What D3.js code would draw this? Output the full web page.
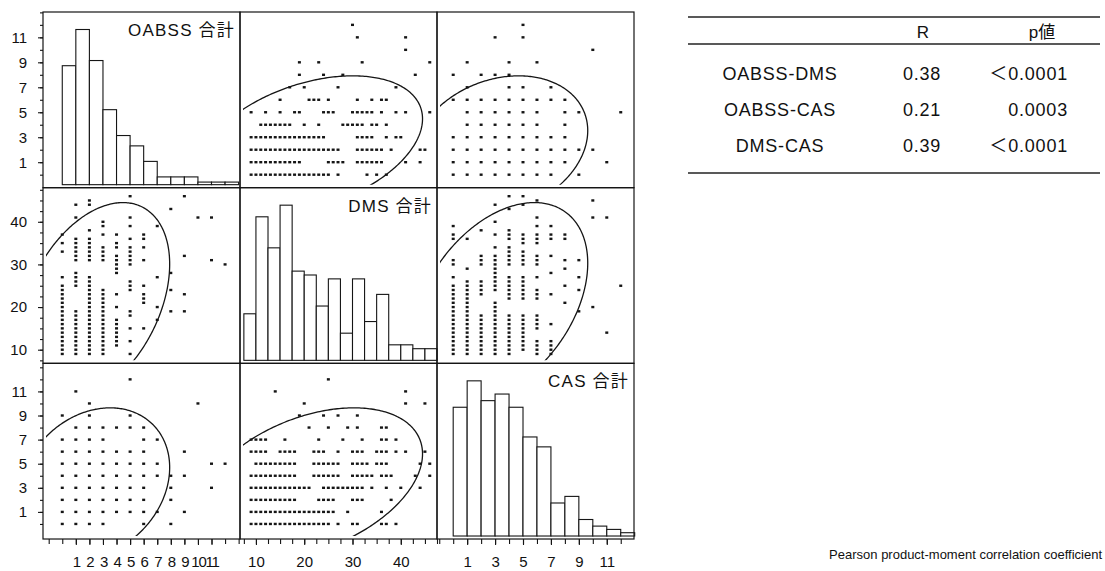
<!DOCTYPE html>
<html>
<head>
<meta charset="utf-8">
<script src="https://cdn.jsdelivr.net/npm/d3@7/dist/d3.min.js"></script>
<style>
  body { margin: 0; background: #fff; }
  svg text { font-family: "Liberation Sans", Arial, "Noto Sans CJK JP", sans-serif; fill: #111; }
</style>
</head>
<body>
<script>
// matrix order
var vars = ["OABSS", "DMS", "CAS"];
var diagLabels = ["OABSS 合計", "DMS 合計", "CAS 合計"];

// histograms (bin edges + counts)
var oabssEdges = [0, 1, 2, 3, 4, 5, 6, 7, 8, 9, 10, 11, 12, 13];
var oabssCounts = [46, 60, 48, 29, 19, 15, 9, 3, 3, 3, 1, 1, 1];
var dmsEdges = [7.5, 10, 12.5, 15, 17.5, 20, 22.5, 25, 27.5, 30, 32.5, 35, 37.5, 40, 42.5, 45, 47.5];
var dmsCounts = [12, 37, 29, 40, 23, 22, 14, 21, 7, 21, 10, 17, 4, 4, 3, 3];
var casEdges = [0, 1, 2, 3, 4, 5, 6, 7, 8, 9, 10, 11, 12, 13];
var casCounts = [39, 47, 41, 43, 39, 30, 27, 10, 12, 5, 3, 2, 1];

// mean / sd for the 95% density ellipses
var means = [2.36, 21.2, 3.37];
var sds = [2.27, 9.52, 2.56];

// correlation table
var pairNames = ["OABSS-DMS", "OABSS-CAS", "DMS-CAS"];
var rValues = [0.38, 0.21, 0.39];
var pValues = ["＜0.0001", "0.0003", "＜0.0001"];

// scatter points, grouped: [first var value, [second var values]]
var oabssDms = [
  [0, [37, 35, 33, 27, 25, 24, 23, 22, 21, 20, 19, 18, 17, 16, 15, 14, 13, 12, 11, 10, 9]],
  [1, [44, 41, 36, 35, 34, 33, 32, 31, 28, 27, 26, 25, 19, 18, 17, 16, 15, 14, 13, 12, 11, 10, 9]],
  [2, [45, 44, 38, 36, 35, 34, 33, 32, 31, 27, 26, 25, 24, 23, 22, 21, 20, 19, 18, 17, 16, 15, 14, 13, 12, 11, 10, 9]],
  [3, [40, 39, 37, 34, 33, 32, 31, 24, 23, 22, 21, 20, 19, 18, 17, 16, 15, 14, 13, 12, 11, 10, 9]],
  [4, [37, 35, 34, 32, 31, 30, 29, 28, 23, 20, 17, 16, 15, 14, 13, 12, 11]],
  [5, [46, 41, 39, 36, 34, 33, 32, 31, 30, 26, 25, 24, 19, 18, 15, 12, 9]],
  [6, [37, 36, 34, 31, 25, 23, 22, 21, 15]],
  [7, [39, 27, 20, 17]],
  [8, [43, 28, 24, 19]],
  [9, [46, 32, 23, 19]],
  [10, [41]],
  [11, [41, 31]],
  [12, [30]]
];
var oabssCas = [
  [0, [0, 1, 2, 3, 4, 5, 6, 7, 9]],
  [1, [0, 1, 2, 3, 4, 5, 6, 7, 8, 11]],
  [2, [0, 1, 2, 3, 4, 5, 6, 7, 8, 9, 10]],
  [3, [0, 1, 2, 3, 4, 5, 6, 7, 8]],
  [4, [1, 2, 3, 4, 5, 6, 8]],
  [5, [1, 2, 3, 4, 5, 6, 8, 9, 12]],
  [6, [0, 1, 2, 3, 4, 5, 6, 7, 8]],
  [7, [1, 4, 5, 7]],
  [8, [0, 2, 3, 4]],
  [9, [1, 4, 6]],
  [10, [10]],
  [11, [3, 5]],
  [12, [5]]
];
var casDms = [
  [0, [39, 37, 36, 31, 30, 27, 25, 24, 23, 22, 21, 20, 19, 18, 17, 16, 15, 14, 13, 12, 11, 10, 9]],
  [1, [36, 29, 26, 25, 24, 23, 22, 21, 20, 19, 18, 17, 16, 15, 14, 13, 12, 11, 10, 9]],
  [2, [38, 32, 31, 30, 26, 25, 24, 23, 18, 17, 16, 15, 14, 13, 12, 11, 10, 9]],
  [3, [44, 40, 37, 34, 32, 31, 30, 29, 28, 27, 26, 25, 24, 21, 20, 19, 18, 17, 16, 15, 14, 13, 12, 11, 10, 9]],
  [4, [46, 43, 38, 37, 36, 34, 33, 32, 31, 30, 27, 26, 25, 24, 23, 22, 18, 17, 16, 15, 14, 13, 12, 11, 10, 9]],
  [5, [46, 44, 37, 36, 35, 33, 32, 31, 30, 27, 26, 25, 24, 23, 22, 18, 17, 16, 15, 14, 13, 12, 11, 10]],
  [6, [45, 41, 39, 37, 36, 35, 32, 31, 30, 27, 24, 23, 22, 18, 17, 16, 15, 12, 11, 10, 9]],
  [7, [39, 37, 36, 32, 28, 23, 16, 12, 11, 10, 9]],
  [8, [37, 36, 31, 29, 25, 21]],
  [9, [31, 27, 24, 19]],
  [10, [45, 41, 20]],
  [11, [41, 14]],
  [12, [25]]
];

// axis labels
var xTickLabels = [[1, 2, 3, 4, 5, 6, 7, 8, 9, 10, 11], [10, 20, 30, 40], [1, 3, 5, 7, 9, 11]];
var yTickLabels = [[1, 3, 5, 7, 9, 11], [10, 20, 30, 40], [1, 3, 5, 7, 9, 11]];

var hists = [
  { edges: oabssEdges, counts: oabssCounts },
  { edges: dmsEdges, counts: dmsCounts },
  { edges: casEdges, counts: casCounts }
];
var pairs = [
  { a: 0, b: 1, r: rValues[0], groups: oabssDms },
  { a: 0, b: 2, r: rValues[1], groups: oabssCas },
  { a: 2, b: 1, r: rValues[2], groups: casDms }
];

var w = 1105, h = 571;
var padLeft = 43, padTop = 12, cellW = 197, cellH = 175.67;
var ink = "#151515";

var svg = d3.select("body").append("svg")
    .attr("width", w)
    .attr("height", h);

// axis ranges as JMP drew them
var xDomains = [[-1.42, 13.1], [6.7, 47.5], [-1.16, 12.95]];
var yDomains = [[-1.04, 13.03], [6.8, 48.0], [-1.25, 13.33]];

var xs = xDomains.map(function(d, j) {
  return d3.scaleLinear().domain(d).range([padLeft + j * cellW, padLeft + (j + 1) * cellW]);
});
var ys = yDomains.map(function(d, i) {
  return d3.scaleLinear().domain(d).range([padTop + (i + 1) * cellH, padTop + i * cellH]);
});

var k95 = Math.sqrt(-2 * Math.log(0.05));
var defs = svg.append("defs");

for (var i = 0; i < 3; i++) {
  for (var j = 0; j < 3; j++) {
    var x0 = padLeft + j * cellW, y0 = padTop + i * cellH;
    var cell = svg.append("g");

    if (i === j) {
      var hd = hists[i];
      var cy = d3.scaleLinear()
          .domain([0, d3.max(hd.counts)])
          .range([y0 + cellH - 3, y0 + 17.5]);
      cell.selectAll("rect.bar")
          .data(hd.counts)
        .enter().append("rect")
          .attr("class", "bar")
          .attr("x", function(d, k) { return xs[j](hd.edges[k]); })
          .attr("width", function(d, k) { return xs[j](hd.edges[k + 1]) - xs[j](hd.edges[k]); })
          .attr("y", function(d) { return cy(d); })
          .attr("height", function(d) { return cy(0) - cy(d); })
          .attr("fill", "#fff")
          .attr("stroke", ink)
          .attr("stroke-width", 1.1);
      cell.append("text")
          .attr("x", x0 + cellW - 5)
          .attr("y", y0 + 24)
          .attr("text-anchor", "end")
          .style("font-size", "17px")
          .style("letter-spacing", "1.2px")
          .text(diagLabels[i]);
    } else {
      var p = pairs.filter(function(q) { return (q.a === i && q.b === j) || (q.a === j && q.b === i); })[0];
      var pts = [];
      p.groups.forEach(function(g) {
        g[1].forEach(function(v) {
          pts.push(p.a === j ? [g[0], v] : [v, g[0]]);
        });
      });

      var cid = "clip" + i + j;
      defs.append("clipPath").attr("id", cid)
        .append("rect")
          .attr("x", x0 + 3).attr("y", y0 + 3)
          .attr("width", cellW - 6).attr("height", cellH - 6);

      cell.selectAll("rect.pt")
          .data(pts)
        .enter().append("rect")
          .attr("class", "pt")
          .attr("x", function(d) { return xs[j](d[0]) - 1.5; })
          .attr("y", function(d) { return ys[i](d[1]) - 1.2; })
          .attr("width", 3)
          .attr("height", 2.4)
          .attr("fill", ink);

      var mx = means[j], my = means[i], sx = sds[j], sy = sds[i], r = p.r;
      var ell = d3.line()
          .x(function(t) { return xs[j](mx + k95 * sx * Math.cos(t)); })
          .y(function(t) { return ys[i](my + k95 * sy * (r * Math.cos(t) + Math.sqrt(1 - r * r) * Math.sin(t))); });
      cell.append("path")
          .datum(d3.range(0, 2 * Math.PI + 0.02, Math.PI / 180))
          .attr("clip-path", "url(#" + cid + ")")
          .attr("d", ell)
          .attr("fill", "none")
          .attr("stroke", ink)
          .attr("stroke-width", 1.3);
    }

    cell.append("rect")
        .attr("x", x0).attr("y", y0)
        .attr("width", cellW).attr("height", cellH)
        .attr("fill", "none")
        .attr("stroke", ink)
        .attr("stroke-width", 1.2);
  }
}

// minor tick positions
var xMinor = [d3.range(-1, 14), d3.range(7.5, 47.6, 2.5), d3.range(-1, 13)];
var yMinor = [d3.range(0, 14), d3.range(7.5, 47.6, 2.5), d3.range(0, 14)];

function styleAxis(g, size) {
  g.select(".domain").remove();
  g.selectAll(".tick line").attr("stroke", ink).attr("stroke-width", 1.1);
  g.selectAll(".tick text").style("font-size", size);
}

for (var a = 0; a < 3; a++) {
  var by = padTop + 3 * cellH;
  svg.append("g")
      .attr("transform", "translate(0," + by + ")")
      .call(d3.axisBottom(xs[a]).tickValues(xMinor[a]).tickSize(5).tickFormat(""))
      .call(styleAxis, "15px");
  var gb = svg.append("g")
      .attr("transform", "translate(0," + by + ")")
      .call(d3.axisBottom(xs[a]).tickValues(xTickLabels[a]).tickSize(6).tickPadding(11.5).tickFormat(d3.format("d")))
      .call(styleAxis, "15px");
  if (a === 0) gb.selectAll(".tick text").style("letter-spacing", "-1.2px");

  svg.append("g")
      .attr("transform", "translate(" + padLeft + ",0)")
      .call(d3.axisLeft(ys[a]).tickValues(yMinor[a]).tickSize(3).tickFormat(""))
      .call(styleAxis, "15px");
  svg.append("g")
      .attr("transform", "translate(" + padLeft + ",0)")
      .call(d3.axisLeft(ys[a]).tickValues(yTickLabels[a]).tickSize(5).tickPadding(11).tickFormat(d3.format("d")))
      .call(styleAxis, "15px");
}

// correlation table
var tbl = svg.append("g");
var rowY = [80, 116, 151.7];
[17, 44, 173].forEach(function(ly) {
  tbl.append("line")
      .attr("x1", 688).attr("x2", 1100)
      .attr("y1", ly).attr("y2", ly)
      .attr("stroke", "#222")
      .attr("stroke-width", 1.3);
});
tbl.append("text").attr("x", 923).attr("y", 37.5).attr("text-anchor", "middle")
    .style("font-size", "17px").text("R");
tbl.append("text").attr("x", 1042).attr("y", 37.5).attr("text-anchor", "middle")
    .style("font-size", "17px").text("p値");

tbl.selectAll("text.name")
    .data(pairNames)
  .enter().append("text")
    .attr("class", "name")
    .attr("x", 780)
    .attr("y", function(d, k) { return rowY[k]; })
    .attr("text-anchor", "middle")
    .style("font-size", "18px")
    .style("letter-spacing", "0.8px")
    .text(function(d) { return d; });
tbl.selectAll("text.r")
    .data(rValues)
  .enter().append("text")
    .attr("class", "r")
    .attr("x", 922)
    .attr("y", function(d, k) { return rowY[k]; })
    .attr("text-anchor", "middle")
    .style("font-size", "18px")
    .style("letter-spacing", "0.8px")
    .text(function(d) { return d3.format(".2f")(d); });
tbl.selectAll("text.p")
    .data(pValues)
  .enter().append("text")
    .attr("class", "p")
    .attr("x", 1068)
    .attr("y", function(d, k) { return rowY[k]; })
    .attr("text-anchor", "end")
    .style("font-size", "18px")
    .style("letter-spacing", "0.8px")
    .text(function(d) { return d; });

svg.append("text")
    .attr("x", 1102)
    .attr("y", 558.5)
    .attr("text-anchor", "end")
    .style("font-size", "13px")
    .text("Pearson product-moment correlation coefficient");
</script>
</body>
</html>
